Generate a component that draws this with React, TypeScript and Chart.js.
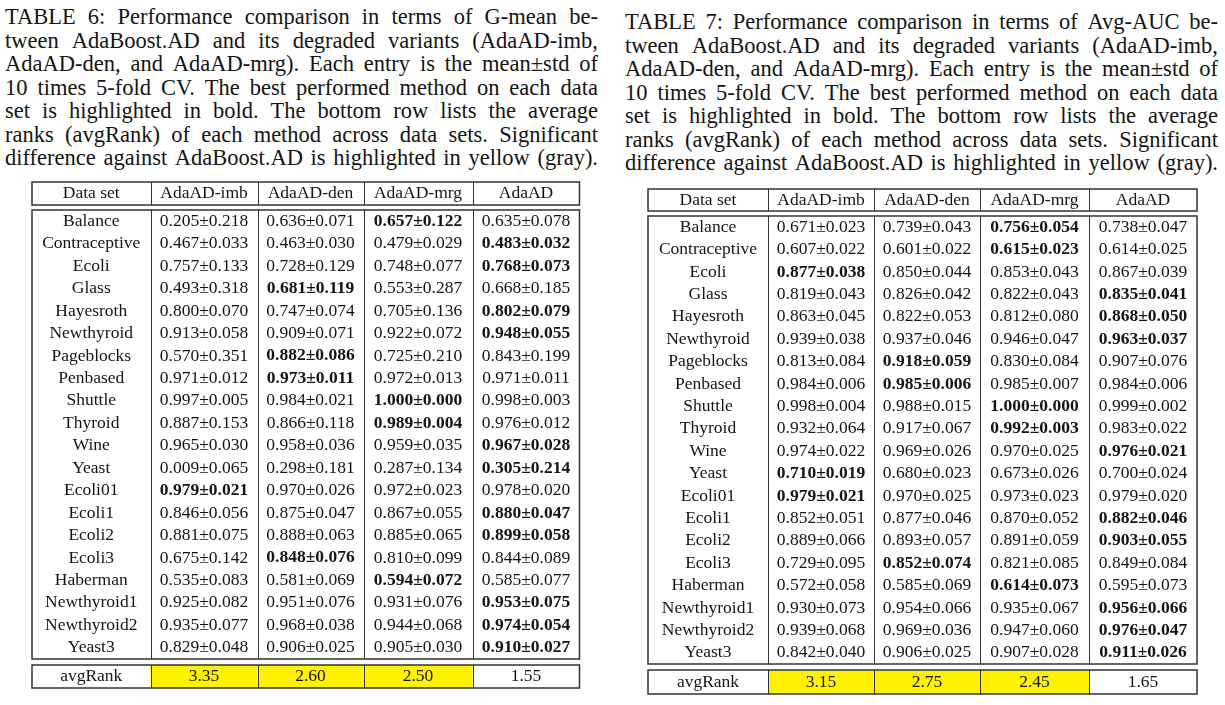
import React, { useEffect, useRef } from "react";
import { Chart, registerables } from "chart.js";

Chart.register(...registerables);

// ---------------- DATA ----------------
const columnHeaders = ["Data set", "AdaAD-imb", "AdaAD-den", "AdaAD-mrg", "AdaAD"];
const dataSets = [
  "Balance", "Contraceptive", "Ecoli", "Glass", "Hayesroth", "Newthyroid", "Pageblocks",
  "Penbased", "Shuttle", "Thyroid", "Wine", "Yeast", "Ecoli01", "Ecoli1", "Ecoli2",
  "Ecoli3", "Haberman", "Newthyroid1", "Newthyroid2", "Yeast3",
];

// Table 6: G-mean
const gmImbMean = [0.205, 0.467, 0.757, 0.493, 0.800, 0.913, 0.570, 0.971, 0.997, 0.887, 0.965, 0.009, 0.979, 0.846, 0.881, 0.675, 0.535, 0.925, 0.935, 0.829];
const gmImbStd = [0.218, 0.033, 0.133, 0.318, 0.070, 0.058, 0.351, 0.012, 0.005, 0.153, 0.030, 0.065, 0.021, 0.056, 0.075, 0.142, 0.083, 0.082, 0.077, 0.048];
const gmDenMean = [0.636, 0.463, 0.728, 0.681, 0.747, 0.909, 0.882, 0.973, 0.984, 0.866, 0.958, 0.298, 0.970, 0.875, 0.888, 0.848, 0.581, 0.951, 0.968, 0.906];
const gmDenStd = [0.071, 0.030, 0.129, 0.119, 0.074, 0.071, 0.086, 0.011, 0.021, 0.118, 0.036, 0.181, 0.026, 0.047, 0.063, 0.076, 0.069, 0.076, 0.038, 0.025];
const gmMrgMean = [0.657, 0.479, 0.748, 0.553, 0.705, 0.922, 0.725, 0.972, 1.000, 0.989, 0.959, 0.287, 0.972, 0.867, 0.885, 0.810, 0.594, 0.931, 0.944, 0.905];
const gmMrgStd = [0.122, 0.029, 0.077, 0.287, 0.136, 0.072, 0.210, 0.013, 0.000, 0.004, 0.035, 0.134, 0.023, 0.055, 0.065, 0.099, 0.072, 0.076, 0.068, 0.030];
const gmAdaMean = [0.635, 0.483, 0.768, 0.668, 0.802, 0.948, 0.843, 0.971, 0.998, 0.976, 0.967, 0.305, 0.978, 0.880, 0.899, 0.844, 0.585, 0.953, 0.974, 0.910];
const gmAdaStd = [0.078, 0.032, 0.073, 0.185, 0.079, 0.055, 0.199, 0.011, 0.003, 0.012, 0.028, 0.214, 0.020, 0.047, 0.058, 0.089, 0.077, 0.075, 0.054, 0.027];
const gmBest = [2, 3, 3, 1, 3, 3, 1, 1, 2, 2, 3, 3, 0, 3, 3, 1, 2, 3, 3, 3];
const gmAvgRank = [3.35, 2.60, 2.50, 1.55];
const gmSignificant = [true, true, true, false];

// Table 7: Avg-AUC
const auImbMean = [0.671, 0.607, 0.877, 0.819, 0.863, 0.939, 0.813, 0.984, 0.998, 0.932, 0.974, 0.710, 0.979, 0.852, 0.889, 0.729, 0.572, 0.930, 0.939, 0.842];
const auImbStd = [0.023, 0.022, 0.038, 0.043, 0.045, 0.038, 0.084, 0.006, 0.004, 0.064, 0.022, 0.019, 0.021, 0.051, 0.066, 0.095, 0.058, 0.073, 0.068, 0.040];
const auDenMean = [0.739, 0.601, 0.850, 0.826, 0.822, 0.937, 0.918, 0.985, 0.988, 0.917, 0.969, 0.680, 0.970, 0.877, 0.893, 0.852, 0.585, 0.954, 0.969, 0.906];
const auDenStd = [0.043, 0.022, 0.044, 0.042, 0.053, 0.046, 0.059, 0.006, 0.015, 0.067, 0.026, 0.023, 0.025, 0.046, 0.057, 0.074, 0.069, 0.066, 0.036, 0.025];
const auMrgMean = [0.756, 0.615, 0.853, 0.822, 0.812, 0.946, 0.830, 0.985, 1.000, 0.992, 0.970, 0.673, 0.973, 0.870, 0.891, 0.821, 0.614, 0.935, 0.947, 0.907];
const auMrgStd = [0.054, 0.023, 0.043, 0.043, 0.080, 0.047, 0.084, 0.007, 0.000, 0.003, 0.025, 0.026, 0.023, 0.052, 0.059, 0.085, 0.073, 0.067, 0.060, 0.028];
const auAdaMean = [0.738, 0.614, 0.867, 0.835, 0.868, 0.963, 0.907, 0.984, 0.999, 0.983, 0.976, 0.700, 0.979, 0.882, 0.903, 0.849, 0.595, 0.956, 0.976, 0.911];
const auAdaStd = [0.047, 0.025, 0.039, 0.041, 0.050, 0.037, 0.076, 0.006, 0.002, 0.022, 0.021, 0.024, 0.020, 0.046, 0.055, 0.084, 0.073, 0.066, 0.047, 0.026];
const auBest = [2, 2, 0, 3, 3, 3, 1, 1, 2, 2, 3, 0, 0, 3, 3, 1, 2, 3, 3, 3];
const auAvgRank = [3.15, 2.75, 2.45, 1.65];
const auSignificant = [true, true, true, false];

const caption6 = [
  "TABLE 6: Performance comparison in terms of G-mean be-",
  "tween AdaBoost.AD and its degraded variants (AdaAD-imb,",
  "AdaAD-den, and AdaAD-mrg). Each entry is the mean\u00b1std of",
  "10 times 5-fold CV. The best performed method on each data",
  "set is highlighted in bold. The bottom row lists the average",
  "ranks (avgRank) of each method across data sets. Significant",
  "difference against AdaBoost.AD is highlighted in yellow (gray).",
];
const caption7 = [
  "TABLE 7: Performance comparison in terms of Avg-AUC be-",
  "tween AdaBoost.AD and its degraded variants (AdaAD-imb,",
  "AdaAD-den, and AdaAD-mrg). Each entry is the mean\u00b1std of",
  "10 times 5-fold CV. The best performed method on each data",
  "set is highlighted in bold. The bottom row lists the average",
  "ranks (avgRank) of each method across data sets. Significant",
  "difference against AdaBoost.AD is highlighted in yellow (gray).",
];

// ---------------- LAYOUT / STYLE ----------------
const FONT = '"Liberation Serif", "Times New Roman", serif';
const CELL_FONT_PX = 17.5;
const CAPTION_FONT_PX = 22.5;
const CAPTION_LINE_PX = 23.5;
const TEXT_COLOR = "#141414";
const LINE_COLOR = "#333333";
const YELLOW = "#fff200";
const PAD = 3;

type TableSpec = {
  left: number;
  top: number;
  colWidths: number[];
  headerH: number;
  gap1: number;
  rowH: number;
  gap2: number;
  rankH: number;
  means: number[][];
  stds: number[][];
  best: number[];
  ranks: number[];
  significant: boolean[];
};

const table6: TableSpec = {
  left: 31.5, top: 182, colWidths: [118.5, 107, 106, 109, 107],
  headerH: 23, gap1: 5, rowH: 22.45, gap2: 6, rankH: 23,
  means: [gmImbMean, gmDenMean, gmMrgMean, gmAdaMean],
  stds: [gmImbStd, gmDenStd, gmMrgStd, gmAdaStd],
  best: gmBest, ranks: gmAvgRank, significant: gmSignificant,
};
const table7: TableSpec = {
  left: 648, top: 189, colWidths: [120, 106, 106, 109, 108],
  headerH: 22, gap1: 5, rowH: 22.4, gap2: 6, rankH: 24,
  means: [auImbMean, auDenMean, auMrgMean, auAdaMean],
  stds: [auImbStd, auDenStd, auMrgStd, auAdaStd],
  best: auBest, ranks: auAvgRank, significant: auSignificant,
};

function tableSize(s: TableSpec) {
  const w = s.colWidths.reduce((a, b) => a + b, 0);
  const h = s.headerH + s.gap1 + s.rowH * dataSets.length + s.gap2 + s.rankH;
  return { w, h };
}

function makeTablePlugin(s: TableSpec) {
  return {
    id: "tableCells",
    afterDraw(chart: any) {
      const ctx: CanvasRenderingContext2D = chart.ctx;
      const xs = chart.scales.x;
      const ys = chart.scales.y;
      const edges: number[] = [0];
      s.colWidths.forEach((w) => edges.push(edges[edges.length - 1] + w));
      const X = (v: number) => xs.getPixelForValue(v);
      const Y = (v: number) => ys.getPixelForValue(v);
      const snap = (p: number) => Math.round(p) + 0.5;

      const headTop = 0;
      const headBot = s.headerH;
      const bodyTop = headBot + s.gap1;
      const bodyBot = bodyTop + s.rowH * dataSets.length;
      const rankTop = bodyBot + s.gap2;
      const rankBot = rankTop + s.rankH;

      ctx.save();
      s.significant.forEach((sig, i) => {
        if (!sig) return;
        ctx.fillStyle = YELLOW;
        ctx.fillRect(X(edges[i + 1]), Y(rankTop), X(edges[i + 2]) - X(edges[i + 1]), Y(rankBot) - Y(rankTop));
      });

      const block = (t: number, b: number) => {
        ctx.strokeStyle = LINE_COLOR;
        ctx.lineWidth = 1;
        for (let i = 1; i < edges.length - 1; i++) {
          ctx.beginPath();
          ctx.moveTo(snap(X(edges[i])), Y(t));
          ctx.lineTo(snap(X(edges[i])), Y(b));
          ctx.stroke();
        }
        ctx.lineWidth = 1.5;
        ctx.strokeRect(X(edges[0]), Y(t), X(edges[edges.length - 1]) - X(edges[0]), Y(b) - Y(t));
      };
      block(headTop, headBot);
      block(bodyTop, bodyBot);
      block(rankTop, rankBot);

      ctx.fillStyle = TEXT_COLOR;
      ctx.textAlign = "center";
      ctx.textBaseline = "middle";
      const cx = (i: number) => (X(edges[i]) + X(edges[i + 1])) / 2;
      ctx.font = `${CELL_FONT_PX}px ${FONT}`;
      columnHeaders.forEach((h, i) => ctx.fillText(h, cx(i), Y((headTop + headBot) / 2)));

      dataSets.forEach((name, r) => {
        const yc = Y(bodyTop + s.rowH * (r + 0.5));
        ctx.font = `${CELL_FONT_PX}px ${FONT}`;
        ctx.fillText(name, cx(0), yc);
        for (let c = 0; c < 4; c++) {
          const bold = s.best[r] === c;
          ctx.font = `${bold ? "bold " : ""}${CELL_FONT_PX}px ${FONT}`;
          const txt = `${s.means[c][r].toFixed(3)}\u00b1${s.stds[c][r].toFixed(3)}`;
          ctx.fillText(txt, cx(c + 1), yc);
        }
      });

      ctx.font = `${CELL_FONT_PX}px ${FONT}`;
      const yr = Y((rankTop + rankBot) / 2);
      ctx.fillText("avgRank", cx(0), yr);
      s.ranks.forEach((v, i) => ctx.fillText(v.toFixed(2), cx(i + 1), yr));
      ctx.restore();
    },
  };
}

function TableChart({ spec }: { spec: TableSpec }) {
  const ref = useRef<HTMLCanvasElement | null>(null);
  const { w, h } = tableSize(spec);
  const cw = Math.ceil(w + 2 * PAD);
  const chh = Math.ceil(h + 2 * PAD);
  useEffect(() => {
    if (!ref.current) return;
    const chart = new Chart(ref.current, {
      type: "scatter",
      data: { datasets: [] },
      options: {
        animation: false,
        responsive: false,
        events: [],
        layout: { padding: 0 },
        plugins: { legend: { display: false }, tooltip: { enabled: false }, title: { display: false } },
        scales: {
          x: { type: "linear", display: false, min: -PAD, max: cw - PAD },
          y: { type: "linear", display: false, min: -PAD, max: chh - PAD, reverse: true },
        },
      },
      plugins: [makeTablePlugin(spec)],
    } as any);
    return () => chart.destroy();
  }, [spec]);
  return (
    <canvas
      ref={ref}
      width={cw}
      height={chh}
      style={{ position: "absolute", left: spec.left - PAD, top: spec.top - PAD, width: cw, height: chh }}
    />
  );
}

function Caption({ lines, left, top, width }: { lines: string[]; left: number; top: number; width: number }) {
  return (
    <div style={{ position: "absolute", left, top, width, fontFamily: FONT, fontSize: CAPTION_FONT_PX, lineHeight: `${CAPTION_LINE_PX}px`, color: TEXT_COLOR }}>
      {lines.map((l, i) => (
        <div key={i} style={{ display: "flex", justifyContent: "space-between", width, whiteSpace: "nowrap" }}>
          {l.split(" ").map((w, j) => (
            <span key={j}>{w}</span>
          ))}
        </div>
      ))}
    </div>
  );
}

export default function App() {
  return (
    <div style={{ position: "absolute", left: 0, top: 0, width: 1225, height: 705, background: "#fff", overflow: "hidden" }}>
      <Caption lines={caption6} left={5} top={5} width={593} />
      <Caption lines={caption7} left={625} top={10} width={593} />
      <TableChart spec={table6} />
      <TableChart spec={table7} />
    </div>
  );
}
